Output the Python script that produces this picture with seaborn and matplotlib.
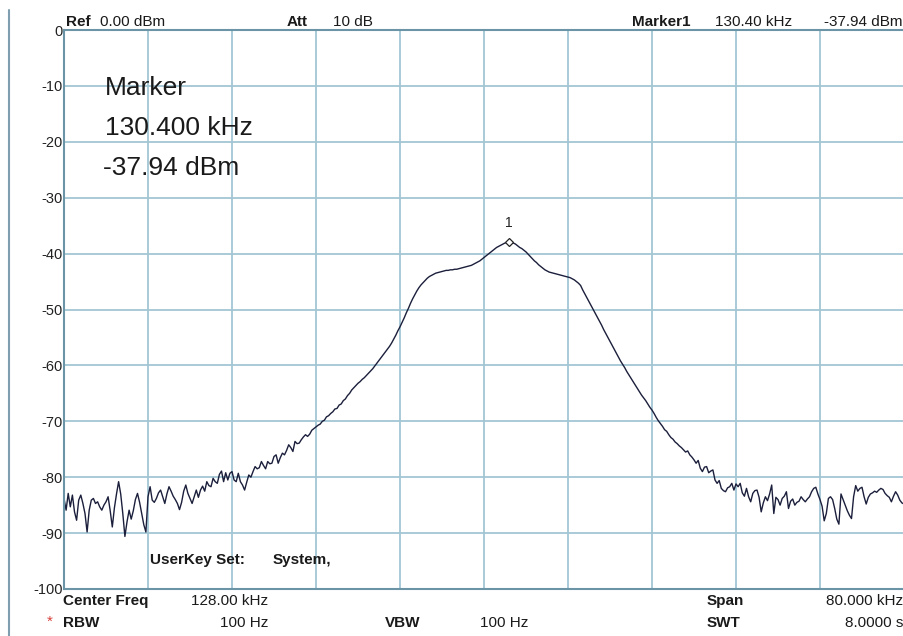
import numpy as np
import pandas as pd
import matplotlib
matplotlib.use("Agg")
import matplotlib.pyplot as plt
import seaborn as sns
from matplotlib.lines import Line2D

# ---------------- data ----------------
center_khz = 128.0
span_khz = 80.0
level_dbm = [
    -83.8, -85.9, -82.9, -85.3, -83.2, -86.2, -87.7, -84.1, -83.2, -84.7, -86.5, -89.8, -85.9, -84.1, -83.8, -84.7, -84.4, -85.3, -85.9, -85.0,
    -84.4, -83.5, -86.0, -88.9, -85.5, -83.0, -80.8, -83.0, -86.5, -90.6, -88.0, -85.9, -87.5, -86.0, -84.0, -82.9, -84.5, -86.5, -88.5, -89.8,
    -83.5, -81.7, -84.1, -84.5, -83.8, -82.8, -82.3, -83.5, -84.7, -83.0, -81.7, -82.5, -83.4, -84.0, -84.7, -85.8, -84.5, -82.5, -81.4, -82.9,
    -83.8, -84.7, -83.5, -82.3, -83.6, -82.3, -81.6, -82.5, -80.8, -81.5, -81.7, -80.2, -80.8, -81.1, -79.5, -78.9, -80.8, -79.2, -80.5, -79.3,
    -79.0, -80.5, -80.8, -79.3, -80.8, -81.4, -82.3, -80.9, -79.6, -80.0, -79.0, -78.1, -78.5, -78.3, -77.2, -77.9, -78.5, -77.2, -77.6, -77.5,
    -76.3, -76.0, -77.5, -76.5, -75.7, -76.0, -75.2, -74.2, -74.7, -75.4, -73.6, -74.0, -73.9, -73.3, -72.8, -72.4, -72.7, -72.3, -71.6, -71.3,
    -71.0, -70.7, -70.5, -70.0, -69.8, -69.2, -69.0, -68.6, -68.3, -67.8, -67.7, -67.1, -66.9, -66.3, -66.0, -65.4, -65.0, -64.4, -64.0, -63.6,
    -63.2, -62.9, -62.5, -62.2, -61.8, -61.4, -61.0, -60.6, -60.1, -59.6, -59.1, -58.6, -58.1, -57.6, -57.1, -56.6, -56.0, -55.3, -54.6, -53.8,
    -53.1, -52.3, -51.5, -50.6, -49.8, -48.9, -48.1, -47.4, -46.7, -46.1, -45.6, -45.2, -44.8, -44.4, -44.1, -43.9, -43.7, -43.5, -43.4, -43.3,
    -43.2, -43.1, -43.0, -43.0, -42.9, -42.9, -42.8, -42.8, -42.7, -42.6, -42.5, -42.4, -42.3, -42.2, -42.1, -41.9, -41.7, -41.5, -41.3, -41.0,
    -40.7, -40.4, -40.1, -39.8, -39.5, -39.2, -38.9, -38.7, -38.5, -38.3, -38.1, -38.0, -37.94, -38.0, -38.1, -38.3, -38.6, -38.9, -39.1, -39.4,
    -39.7, -40.1, -40.5, -40.9, -41.3, -41.6, -42.0, -42.3, -42.6, -42.9, -43.1, -43.3, -43.4, -43.5, -43.6, -43.7, -43.8, -43.9, -44.0, -44.1,
    -44.2, -44.3, -44.5, -44.7, -45.0, -45.3, -45.7, -46.5, -47.2, -47.9, -48.6, -49.3, -50.0, -50.7, -51.4, -52.1, -52.8, -53.6, -54.3, -55.0,
    -55.7, -56.4, -57.1, -57.8, -58.5, -59.2, -59.8, -60.4, -61.1, -61.7, -62.3, -62.9, -63.5, -64.1, -64.7, -65.3, -65.8, -66.3, -66.9, -67.5,
    -68.0, -68.6, -69.3, -69.9, -70.4, -70.9, -71.5, -71.8, -72.4, -72.9, -73.2, -73.7, -74.0, -74.4, -74.7, -75.1, -75.5, -75.3, -76.0, -76.4,
    -76.9, -77.5, -77.0, -78.4, -79.0, -78.2, -78.1, -79.2, -78.9, -78.7, -80.5, -81.1, -80.6, -82.0, -82.4, -82.6, -81.9, -81.7, -81.1, -82.3,
    -81.2, -81.7, -81.1, -82.8, -83.4, -82.0, -83.5, -84.4, -82.9, -82.4, -82.3, -83.6, -86.2, -84.6, -83.5, -84.2, -83.0, -81.4, -86.5, -83.6,
    -84.0, -85.0, -83.8, -83.4, -82.6, -85.6, -84.3, -83.9, -85.0, -84.5, -84.3, -83.5, -84.0, -84.4, -83.9, -83.5, -82.6, -82.0, -81.8, -83.0,
    -84.0, -85.2, -87.8, -86.5, -83.8, -83.5, -84.0, -85.6, -87.5, -88.4, -83.0, -84.0, -85.0, -86.0, -86.8, -87.4, -83.5, -81.5, -82.5, -82.0,
    -81.8, -83.5, -84.8, -83.6, -83.0, -82.8, -82.5, -82.7, -82.3, -82.0, -82.2, -82.9, -83.3, -83.6, -84.4, -83.4, -82.6, -83.2, -84.1, -84.6,
    -84.8,
]
marker_freq_khz = [130.4]
marker_level_dbm = [-37.94]
y_ticks = [0, -10, -20, -30, -40, -50, -60, -70, -80, -90, -100]
y_tick_labels = ["0", "-10", "-20", "-30", "-40", "-50", "-60", "-70", "-80", "-90", "-100"]

freq_khz = np.linspace(center_khz - span_khz / 2, center_khz + span_khz / 2, len(level_dbm))
df = pd.DataFrame({"freq": freq_khz, "level": level_dbm})

# ---------------- style ----------------
sns.set_style("white")
plt.rcParams["font.family"] = ["Liberation Sans", "DejaVu Sans"]

W, H = 904, 636
fig = plt.figure(figsize=(W / 100, H / 100), dpi=100)
fig.patch.set_facecolor("white")

def fx(px):
    return px / W

def fy(py):
    return 1 - py / H

ax = fig.add_axes([fx(64), fy(589), fx(904) - fx(64), fy(30) - fy(589)])
ax.set_facecolor("white")

sns.lineplot(data=df, x="freq", y="level", ax=ax, color="#1b1f3b",
             linewidth=1.0, sort=False, estimator=None, legend=False)

ax.set_xlim(center_khz - span_khz / 2, center_khz + span_khz / 2)
ax.set_ylim(-100, 0)
ax.set_xticks(np.linspace(center_khz - span_khz / 2, center_khz + span_khz / 2, 11))
ax.set_xticklabels([])
ax.set_yticks(y_ticks)
ax.set_yticklabels(y_tick_labels)
ax.tick_params(axis="both", length=0, pad=1)
ax.tick_params(axis="y", labelsize=10.5, labelcolor="#222222")
ax.grid(True, color="#a3c6d5", linewidth=1.3)
ax.set_axisbelow(True)
ax.set_xlabel("")
ax.set_ylabel("")
for side in ["top", "bottom", "left"]:
    ax.spines[side].set_visible(True)
    ax.spines[side].set_color("#6b95a6")
    ax.spines[side].set_linewidth(1.5)
ax.spines["right"].set_visible(False)

# marker
ax.plot(marker_freq_khz, marker_level_dbm, marker="D", markersize=4.5,
        markerfacecolor="white", markeredgecolor="#222222", markeredgewidth=0.9,
        linestyle="none", zorder=5)
ax.annotate("1", (marker_freq_khz[0], marker_level_dbm[0]), xytext=(0, 9),
            textcoords="offset points", ha="center", va="bottom", fontsize=10,
            color="#222222")

# big marker readout
big = dict(fontsize=19, color="#1a1a1a", va="center", ha="left")
fig.text(fx(105), fy(88), "Marker", **big)
fig.text(fx(105), fy(128), f"{marker_freq_khz[0]:.3f} kHz", **big)
fig.text(fx(103), fy(168), f"{marker_level_dbm[0]:.2f} dBm", **big)

# header / footer annotations
hs = 11
def t(px, py, s, bold=False, ha="left", color="#1a1a1a"):
    fig.text(fx(px), fy(py), s, fontsize=hs, ha=ha, va="center",
             fontweight="bold" if bold else "normal", color=color)

t(66, 22, "Ref", True)
t(100, 22, "0.00 dBm")
t(287, 22, "Att", True)
t(333, 22, "10 dB")
t(632, 22, "Marker1", True)
t(715, 22, f"{marker_freq_khz[0]:.2f} kHz")
t(903, 22, f"{marker_level_dbm[0]:.2f} dBm", ha="right")

t(150, 560, "UserKey Set:", True)
t(273, 560, "System,", True)

t(63, 601, "Center Freq", True)
t(268, 601, "128.00 kHz", ha="right")
t(707, 601, "Span", True)
t(903, 601, "80.000 kHz", ha="right")

t(47, 622, "*", color="#d9403a")
t(63, 623, "RBW", True)
t(268, 623, "100 Hz", ha="right")
t(385, 623, "VBW", True)
t(480, 623, "100 Hz")
t(707, 623, "SWT", True)
t(903, 623, "8.0000 s", ha="right")

# left screen frame line
fig.add_artist(Line2D([fx(9), fx(9)], [fy(10), fy(636)], color="#7f9fb0", linewidth=1.5))

fig.savefig("out.png", dpi=100, facecolor="white")
